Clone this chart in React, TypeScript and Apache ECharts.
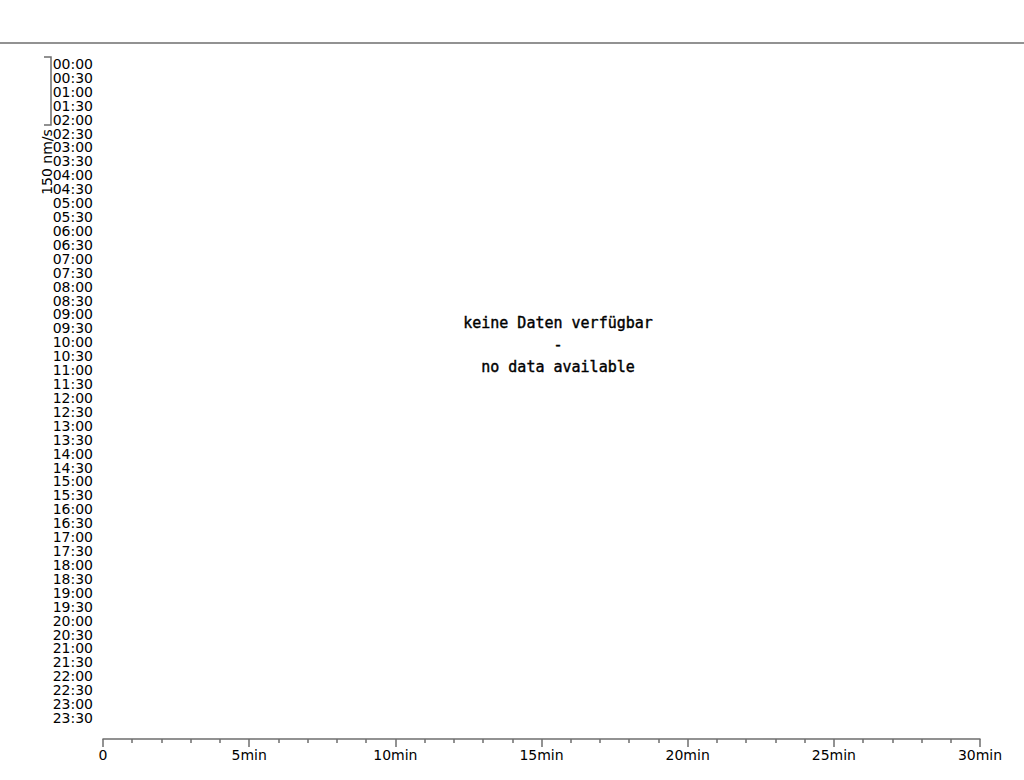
import React, { useEffect, useRef } from 'react';
import * as echarts from 'echarts';

// Zeilen des Helikorders (eine pro halbe Stunde)
const rowLabels = [
  '00:00', '00:30', '01:00', '01:30', '02:00', '02:30', '03:00', '03:30',
  '04:00', '04:30', '05:00', '05:30', '06:00', '06:30', '07:00', '07:30',
  '08:00', '08:30', '09:00', '09:30', '10:00', '10:30', '11:00', '11:30',
  '12:00', '12:30', '13:00', '13:30', '14:00', '14:30', '15:00', '15:30',
  '16:00', '16:30', '17:00', '17:30', '18:00', '18:30', '19:00', '19:30',
  '20:00', '20:30', '21:00', '21:30', '22:00', '22:30', '23:00', '23:30'
];
const minuteMin = 0;
const minuteMax = 30;
const minuteStep = 5;
const scaleLabel = '150 nm/s';
const messageLines = ['keine Daten verfügbar', '-', 'no data available'];

const LINE = '#6e6e6e';
const FONT = 'DejaVu Sans';

export default function App() {
  const chartRef = useRef<HTMLDivElement>(null);

  useEffect(() => {
    const chart = echarts.init(chartRef.current, null, { renderer: 'svg' });

    const option = {
      animation: false,
      grid: [
        { left: 103, right: 44, top: 700, bottom: 41, show: false },
        { left: 103, right: 44, top: 64, bottom: 62, show: false }
      ],
      xAxis: [
        {
          gridIndex: 0,
          type: 'value',
          min: minuteMin,
          max: minuteMax,
          interval: minuteStep,
          position: 'bottom',
          axisLine: { show: true, lineStyle: { color: LINE, width: 1.5 } },
          axisTick: { show: true, length: 8, lineStyle: { color: LINE, width: 1.5 } },
          minorTick: { show: true, splitNumber: 5, length: 4, lineStyle: { color: LINE, width: 1.5 } },
          splitLine: { show: false },
          axisLabel: {
            color: '#000',
            fontFamily: FONT,
            fontSize: 14,
            margin: 9,
            formatter: (v: number) => (v === 0 ? '0' : v + 'min')
          }
        },
        {
          gridIndex: 1,
          type: 'value',
          min: minuteMin,
          max: minuteMax,
          show: false
        }
      ],
      yAxis: [
        {
          gridIndex: 0,
          type: 'value',
          show: false
        },
        {
          gridIndex: 1,
          type: 'category',
          data: rowLabels,
          inverse: true,
          boundaryGap: false,
          axisLine: { show: false },
          axisTick: { show: false },
          splitLine: { show: false },
          axisLabel: {
            color: '#000',
            fontFamily: FONT,
            fontSize: 14,
            lineHeight: 13,
            margin: 10,
            interval: 0
          }
        }
      ],
      series: [
        { type: 'line', xAxisIndex: 1, yAxisIndex: 1, data: [] }
      ],
      graphic: [
        {
          type: 'line',
          shape: { x1: 0, y1: 43, x2: 1024, y2: 43 },
          style: { stroke: LINE, lineWidth: 1.5 }
        },
        {
          type: 'polyline',
          shape: { points: [[44, 57], [51, 57], [51, 125], [44, 125]] },
          style: { stroke: LINE, lineWidth: 1.5, fill: null }
        },
        {
          type: 'text',
          x: 47,
          y: 162,
          rotation: Math.PI / 2,
          style: {
            text: scaleLabel,
            fill: '#000',
            font: '14px "DejaVu Sans"',
            align: 'center',
            verticalAlign: 'middle'
          }
        },
        ...messageLines.map((t, i) => ({
          type: 'text',
          x: 558,
          y: 323 + i * 22,
          style: {
            text: t,
            fill: '#000',
            stroke: '#000',
            lineWidth: 0.4,
            font: '15px "DejaVu Sans Mono"',
            align: 'center',
            verticalAlign: 'middle'
          }
        }))
      ]
    };

    chart.setOption(option);
    return () => chart.dispose();
  }, []);

  return (
    <div
      ref={chartRef}
      style={{ position: 'absolute', left: 0, top: 0, width: 1024, height: 780, background: '#fff' }}
    />
  );
}
